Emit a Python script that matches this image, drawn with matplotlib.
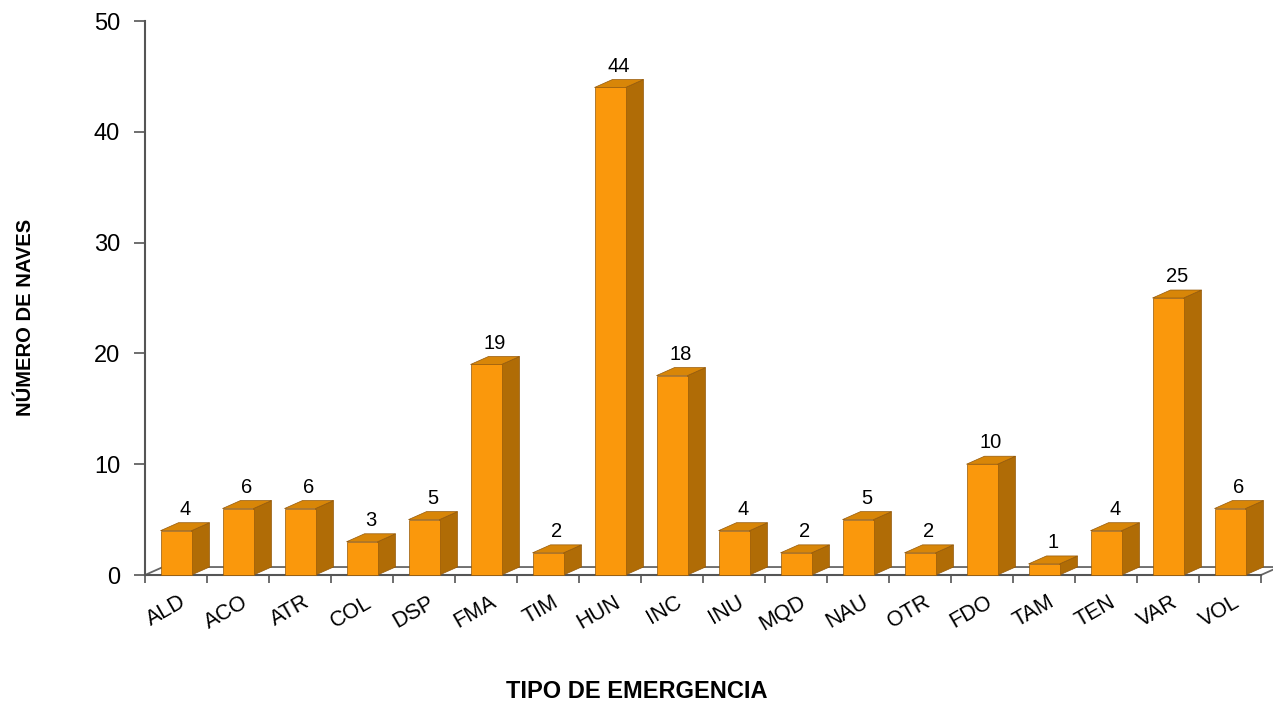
import matplotlib
matplotlib.use('Agg')
from matplotlib import pyplot as plt
from matplotlib.patches import Polygon

plt.rcParams['font.family'] = ['Liberation Sans', 'DejaVu Sans']

# emergency type codes and number of ships
tipos = ['ALD', 'ACO', 'ATR', 'COL', 'DSP', 'FMA', 'TIM', 'HUN', 'INC',
         'INU', 'MQD', 'NAU', 'OTR', 'FDO', 'TAM', 'TEN', 'VAR', 'VOL']
naves = [4, 6, 6, 3, 5, 19, 2, 44, 18, 4, 2, 5, 2, 10, 1, 4, 25, 6]

FRONT = '#FA980C'
SIDE = '#B06C06'
TOP = '#D88608'
EDGE = '#94590A'

# fake 3d depth (in data units)
DX = 0.29
DY = 0.72
W = 0.25  # half width of the front face


def main():
    fig = plt.figure(figsize=(12.73, 7.02), dpi=100)
    ax = fig.add_axes([145 / 1273, 1 - 575 / 702, 1116 / 1273, 554 / 702])
    n = len(tipos)
    ax.set_xlim(-0.5, n - 0.5)
    ax.set_ylim(0, 50)

    # floor
    floor = Polygon([(-0.5, 0), (n - 0.5, 0), (n - 0.5 + DX, DY), (-0.5 + DX, DY)],
                    closed=True, facecolor='white', edgecolor='#666666', lw=1.3,
                    clip_on=False, zorder=1)
    ax.add_patch(floor)

    for i, v in enumerate(naves):
        x0, x1 = i - W, i + W
        side = Polygon([(x1, 0), (x1 + DX, DY), (x1 + DX, v + DY), (x1, v)],
                       closed=True, facecolor=SIDE, edgecolor=EDGE, lw=0.5,
                       clip_on=False, zorder=3)
        top = Polygon([(x0, v), (x1, v), (x1 + DX, v + DY), (x0 + DX, v + DY)],
                      closed=True, facecolor=TOP, edgecolor=EDGE, lw=0.5,
                      clip_on=False, zorder=3)
        front = Polygon([(x0, 0), (x1, 0), (x1, v), (x0, v)],
                        closed=True, facecolor=FRONT, edgecolor=EDGE, lw=0.5,
                        clip_on=False, zorder=4)
        ax.add_patch(side)
        ax.add_patch(top)
        ax.add_patch(front)
        ax.text(i + DX / 2, v + DY + 0.35, str(v), ha='center', va='bottom',
                fontsize=14.5, color='black', zorder=5)

    # axes styling
    for s in ['top', 'right']:
        ax.spines[s].set_visible(False)
    ax.spines['left'].set_color('#555555')
    ax.spines['left'].set_linewidth(1.5)
    ax.spines['bottom'].set_color('#555555')
    ax.spines['bottom'].set_linewidth(1.5)
    ax.spines['bottom'].set_zorder(2)

    ax.set_yticks(range(0, 51, 10))
    ax.tick_params(axis='y', labelsize=17, length=8, width=1.2,
                   color='#555555', pad=10)
    ax.set_xticks([k - 0.5 for k in range(n + 1)])
    ax.set_xticklabels([])
    ax.tick_params(axis='x', length=6, width=1.2, color='#555555')

    for i, t in enumerate(tipos):
        ax.text(i + 0.05, -1.5, t, rotation=30, rotation_mode='anchor',
                ha='right', va='top', fontsize=15.5, transform=ax.transData)

    fig.text(26 / 1273, 1 - 317 / 702, 'NÚMERO DE NAVES', rotation=90,
             ha='center', va='center', fontsize=14.5, fontweight='bold')
    fig.text(637 / 1273, 1 - 692 / 702, 'TIPO DE EMERGENCIA',
             ha='center', va='center', fontsize=17, fontweight='bold')

    fig.savefig('out.png', dpi=100)


if __name__ == '__main__':
    main()
